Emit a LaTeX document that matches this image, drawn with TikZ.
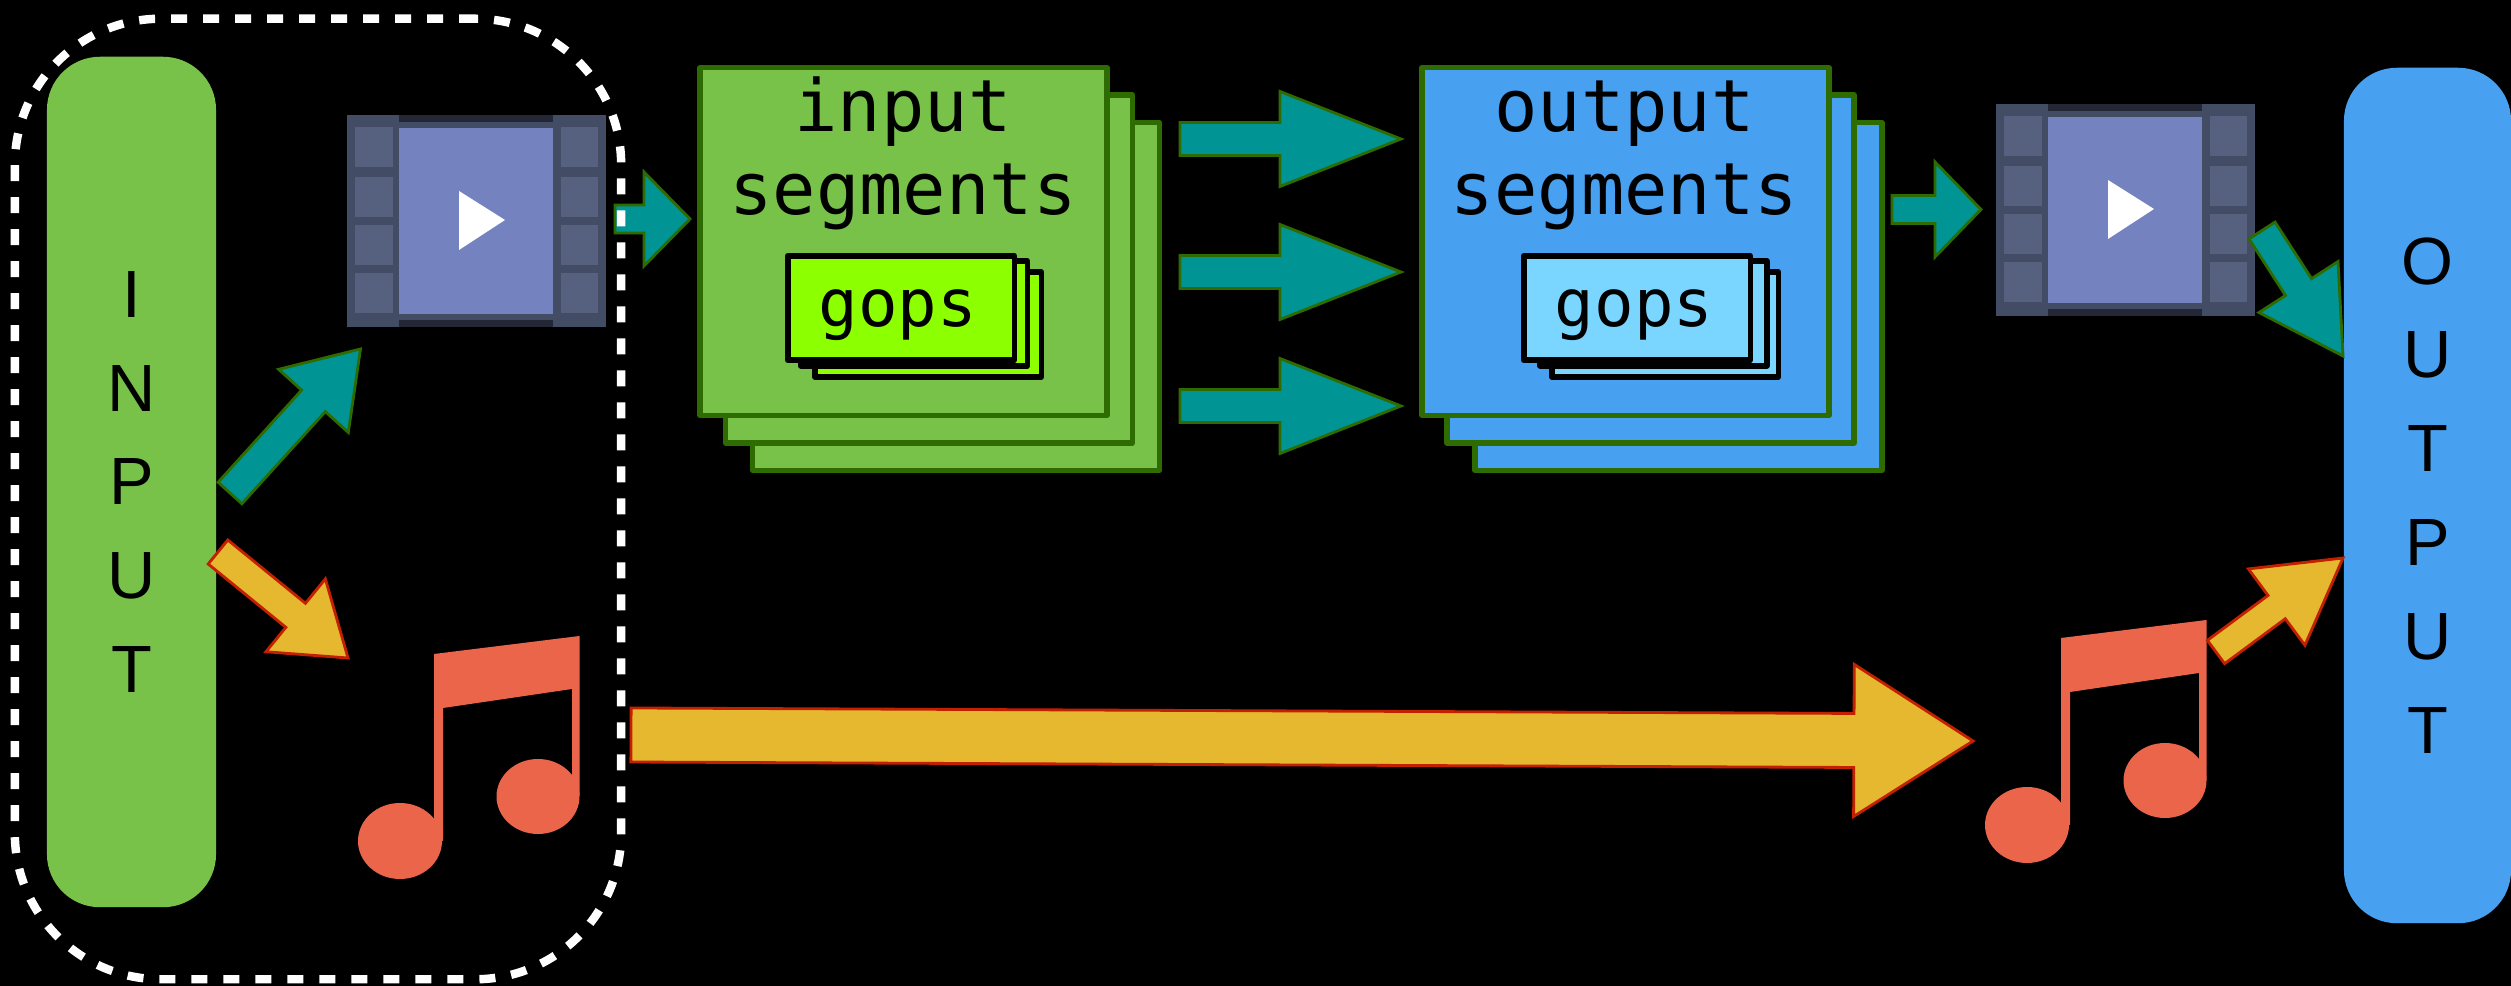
\documentclass[tikz,border=0pt]{standalone}
\usepackage{fontspec}
\setmainfont{Liberation Sans}
\newfontfamily\segfont{DejaVu Sans Mono}
\usetikzlibrary{calc}

\definecolor{boxgreen}{RGB}{120,194,74}
\definecolor{boxblue}{RGB}{71,160,240}
\definecolor{edgegreen}{RGB}{46,107,0}
\definecolor{gopgreen}{RGB}{140,255,0}
\definecolor{gopblue}{RGB}{122,214,255}
\definecolor{arrowteal}{RGB}{0,148,148}
\definecolor{arrowgold}{RGB}{229,184,47}
\definecolor{edgered}{RGB}{195,32,0}
\definecolor{notered}{RGB}{235,101,75}
\definecolor{filmdark}{RGB}{66,76,100}
\definecolor{filmedge}{RGB}{36,40,54}
\definecolor{filmcell}{RGB}{86,97,128}
\definecolor{filmblue}{RGB}{116,131,191}

\tikzset{
  sidebox/.style={rounded corners=.53cm, minimum width=1.69cm, minimum height=8.5cm, inner sep=0pt,
    align=center, font=\fontsize{19}{26.7}\selectfont},
  segbox/.style={draw=edgegreen, line width=1.6pt, line join=round, minimum width=4.065cm, minimum height=3.475cm, inner sep=0pt},
  gopbox/.style={draw=black, line width=1.6pt, line join=round, minimum width=2.265cm, minimum height=1.045cm, inner sep=0pt},
  segtext/.style={anchor=base, align=center, inner sep=0pt, font=\segfont\fontsize{20.5}{23.6}\selectfont},
  goptext/.style={anchor=base, inner sep=0pt, font=\segfont\fontsize{18.7}{23}\selectfont},
  dashbox/.style={draw=white, line width=2.4pt, rounded corners=1.46cm, minimum width=6.06cm, minimum height=9.6cm,
    dash pattern=on 4.55pt off 4.55pt},
  bigarrow/.style n args={3}{to path={
    ($(\tikztostart)!#1!90:(\tikztotarget)$)
    -- ($(\tikztotarget)!#3!(\tikztostart)!#1!-90:(\tikztostart)$)
    -- ($(\tikztotarget)!#3!(\tikztostart)!#2!-90:(\tikztostart)$)
    -- (\tikztotarget)
    -- ($(\tikztotarget)!#3!(\tikztostart)!#2!90:(\tikztostart)$)
    -- ($(\tikztotarget)!#3!(\tikztostart)!#1!90:(\tikztostart)$)
    -- ($(\tikztostart)!#1!-90:(\tikztotarget)$) -- cycle}},
  tealarrow/.style={draw=edgegreen, fill=arrowteal, line width=.8pt},
  goldarrow/.style={draw=edgered, fill=arrowgold, line width=.8pt},
  filmstrip/.pic={
    \fill[filmdark] (0,0) rectangle (259,212);
    \fill[filmedge] (52,0) rectangle (206,7);
    \fill[filmedge] (52,205) rectangle (206,212);
    \fill[filmblue] (52,13) rectangle (206,199);
    \foreach \y in {12,62,110,158} {
      \fill[filmcell] (7.5,\y) rectangle ++(38,40);
      \fill[filmcell] (214,\y) rectangle ++(37,40);
    }
    \fill[white] (112,76) -- (112,135) -- (158,105) -- cycle;
  },
  musicnote/.pic={
    \fill[notered] (76,18) -- (221.5,0) -- (221.5,160) -- (214,160) -- (214,53) -- (85,72) -- (85,205) -- (76,205) -- cycle;
    \fill[notered] (42,205) ellipse (42 and 38);
    \fill[notered] (180,160.5) ellipse (41.5 and 37.5);
  }
}

\begin{document}
\begin{tikzpicture}[x=0.01cm, y=-0.01cm]
\fill[black] (0,0) rectangle (2511,986);
\useasboundingbox (0,0) rectangle (2511,986);

\node[sidebox, fill=boxgreen] (in) at (131.5,482) {I\\N\\P\\U\\T};
\node[sidebox, fill=boxblue, minimum width=1.67cm, minimum height=8.55cm] (out) at (2427.5,495.5) {O\\U\\T\\P\\U\\T};

\pic (fa) at (347,115) {filmstrip};
\pic (fb) at (1996,104) {filmstrip};
\pic (na) at (358,636) {musicnote};
\pic (nb) at (1985,620) {musicnote};

% input stack
\node[segbox, fill=boxgreen] (i3) at (956,296.5) {};
\node[segbox, fill=boxgreen] (i2) at (929,269) {};
\node[segbox, fill=boxgreen] (i1) at (903.5,241.5) {};
\node[gopbox, fill=gopgreen] (g3) at (928,324.5) {};
\node[gopbox, fill=gopgreen] (g2) at (914,313.5) {};
\node[gopbox, fill=gopgreen] (g1) at (901,308) {};
\node[segtext] (it) at (903,215) {input\\segments};
\node[goptext] (gt) at (898,327) {gops};

% output stack
\node[segbox, fill=boxblue] (o3) at (1678.5,296.5) {};
\node[segbox, fill=boxblue] (o2) at (1650.5,269) {};
\node[segbox, fill=boxblue] (o1) at (1625.5,241.5) {};
\node[gopbox, fill=gopblue] (h3) at (1665,324.5) {};
\node[gopbox, fill=gopblue] (h2) at (1653.5,313.5) {};
\node[gopbox, fill=gopblue] (h1) at (1637,308) {};
\node[segtext] (ot) at (1624.5,215) {output\\segments};
\node[goptext] (ht) at (1634,327) {gops};

\coordinate (a1) at (230,493);
\coordinate (a2) at (360.5,349);
\coordinate (b1) at (615,219);
\coordinate (b2) at (690,219);
\coordinate (c1) at (1180,139);
\coordinate (c2) at (1401,139);
\coordinate (d1) at (1180,272);
\coordinate (d2) at (1401,272);
\coordinate (e1) at (1180,406);
\coordinate (e2) at (1401,406);
\coordinate (f1) at (1892,209.5);
\coordinate (f2) at (1981,209.5);
\coordinate (j1) at (2262,230.5);
\coordinate (j2) at (2343,356);
\coordinate (k1) at (218,552);
\coordinate (k2) at (348,658);
\coordinate (l1) at (631,735);
\coordinate (l2) at (1973,741);
\coordinate (m1) at (2216,652);
\coordinate (m2) at (2343,558);

\draw[tealarrow, bigarrow={.16cm}{.47cm}{.7cm}] (a1) to (a2);
\draw[tealarrow, bigarrow={.14cm}{.47cm}{.46cm}] (b1) to (b2);
\draw[tealarrow, bigarrow={.165cm}{.475cm}{1.21cm}] (c1) to (c2);
\draw[tealarrow, bigarrow={.165cm}{.475cm}{1.21cm}] (d1) to (d2);
\draw[tealarrow, bigarrow={.165cm}{.475cm}{1.21cm}] (e1) to (e2);
\draw[tealarrow, bigarrow={.14cm}{.475cm}{.46cm}] (f1) to (f2);
\draw[tealarrow, bigarrow={.155cm}{.47cm}{.82cm}] (j1) to (j2);
\draw[goldarrow, bigarrow={.155cm}{.47cm}{.675cm}] (k1) to (k2);
\draw[goldarrow, bigarrow={.27cm}{.76cm}{1.19cm}] (l1) to (l2);
\draw[goldarrow, bigarrow={.145cm}{.475cm}{.825cm}] (m1) to (m2);

\node[dashbox] (d) at (318,499) {};
\end{tikzpicture}
\end{document}
